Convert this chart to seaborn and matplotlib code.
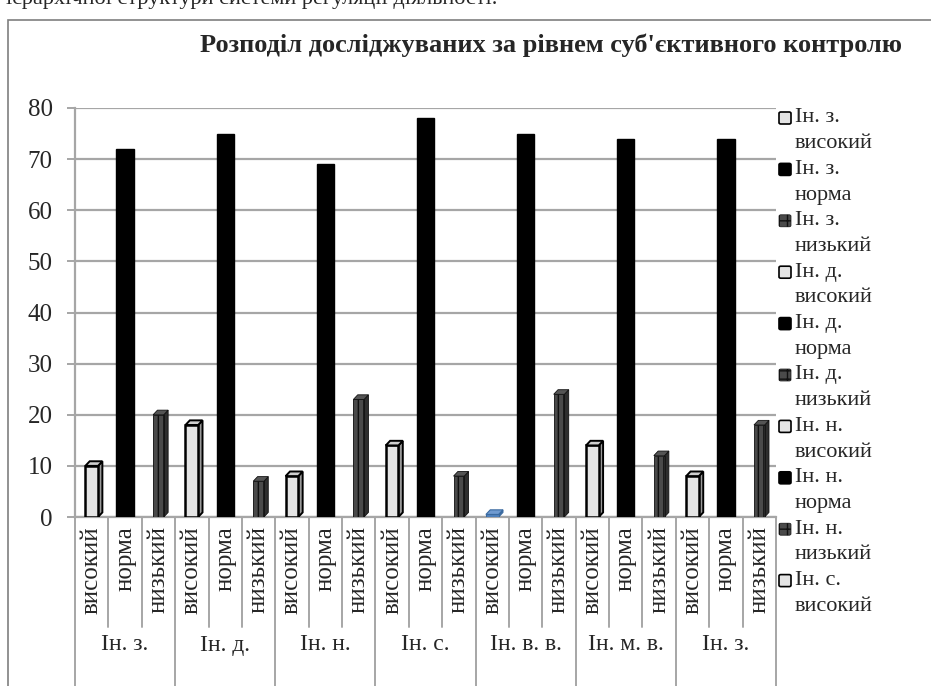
import numpy as np
import pandas as pd
import matplotlib
matplotlib.use("Agg")
import matplotlib.pyplot as plt
import matplotlib.patches as mpatches
import seaborn as sns

groups = ["Ін. з.", "Ін. д.", "Ін. н.", "Ін. с.", "Ін. в. в.", "Ін. м. в.", "Ін. з."]
levels = ["високий", "норма", "низький"]
values_high = [10, 18, 8, 14, 0.5, 14, 8]
values_norm = [72, 75, 69, 78, 75, 74, 74]
values_low = [20, 7, 23, 8, 24, 12, 18]
legend_labels = ["Ін. з.\nвисокий", "Ін. з.\nнорма", "Ін. з.\nнизький",
                 "Ін. д.\nвисокий", "Ін. д.\nнорма", "Ін. д.\nнизький",
                 "Ін. н.\nвисокий", "Ін. н.\nнорма", "Ін. н.\nнизький",
                 "Ін. с.\nвисокий"]
title = "Розподіл досліджуваних за рівнем суб'єктивного контролю"
yticks = [0, 10, 20, 30, 40, 50, 60, 70, 80]

rows = []
for gi, g in enumerate(groups):
    for li, (lv, vals) in enumerate(zip(levels, [values_high, values_norm, values_low])):
        rows.append({"pos": gi * 3 + li, "level": lv, "value": vals[gi]})
df = pd.DataFrame(rows)

sns.set_style("white")
plt.rcParams["font.family"] = ["Liberation Serif", "DejaVu Serif"]

W, H = 931, 686
fig = plt.figure(figsize=(W / 100, H / 100), dpi=100)

def fx(px):
    return px / W

def fy(py):
    return 1 - py / H

# chart area border
fig.patches.append(mpatches.Rectangle((fx(8), fy(700)), fx(940) - fx(8), fy(20) - fy(700),
                                      transform=fig.transFigure, fill=False,
                                      edgecolor="#7f7f7f", linewidth=1.2, zorder=0))
fig.text(fx(6), fy(4), "ієрархічної структури системи регуляції діяльності.",
         fontsize=16, va="baseline", ha="left")

left, right, top, bottom = 75, 776, 108, 517
ax = fig.add_axes([fx(left), fy(bottom), fx(right) - fx(left), fy(top) - fy(bottom)])

palette = {"високий": "#e4e4e4", "норма": "#000000", "низький": "#4a4a4a"}
sns.barplot(data=df, x="pos", y="value", hue="level", dodge=False, palette=palette,
            width=0.5, legend=False, ax=ax, zorder=3)

widths = {"високий": 0.38, "норма": 0.52, "низький": 0.32}
dx, dy = 0.13, 0.9  # small 3D depth offset (data units)
for p in list(ax.patches):
    c = p.get_x() + p.get_width() / 2
    idx = int(round(c))
    lv = levels[idx % 3]
    w = widths[lv]
    h = p.get_height()
    x0 = c - w / 2
    p.set_width(w)
    p.set_x(x0)
    if lv == "норма":
        p.set_edgecolor("black")
        continue
    if lv == "високий" and idx == 12:
        p.set_facecolor("#4f81bd")
        p.set_edgecolor("#3a6aa0")
        p.set_linewidth(0.8)
        side_fc, top_fc, ec, lw = "#3a6aa0", "#6f9ad0", "#3a6aa0", 0.8
    elif lv == "високий":
        p.set_edgecolor("black")
        p.set_linewidth(1.8)
        side_fc, top_fc, ec, lw = "#9a9a9a", "#cfcfcf", "black", 1.4
    else:
        p.set_hatch("|||")
        p.set_edgecolor("#111111")
        p.set_linewidth(0.6)
        side_fc, top_fc, ec, lw = "#2e2e2e", "#555555", "#111111", 0.6
    ax.fill([x0 + w, x0 + w + dx, x0 + w + dx, x0 + w],
            [0, dy, h + dy, h], facecolor=side_fc, edgecolor=ec, linewidth=lw, zorder=2.9)
    ax.fill([x0, x0 + dx, x0 + w + dx, x0 + w],
            [h, h + dy, h + dy, h], facecolor=top_fc, edgecolor=ec, linewidth=lw, zorder=3.1)

ax.set_xlim(-0.5, 20.5)
ax.set_ylim(0, 80)
ax.set_yticks(yticks)
ax.set_yticklabels([str(v) for v in yticks], fontsize=18)
ax.set_xticks([])
ax.set_xlabel("")
ax.set_ylabel("")
ax.grid(axis="y", color="#a6a6a6", linewidth=1.6, zorder=0)
ax.set_axisbelow(True)
for s in ["top", "right"]:
    ax.spines[s].set_visible(False)
for s in ["left", "bottom"]:
    ax.spines[s].set_color("#a6a6a6")
    ax.spines[s].set_linewidth(1.6)
ax.tick_params(axis="y", length=6, width=1.4, color="#a6a6a6", pad=10, direction="out", left=True)

# category labels and separators
trans = ax.get_xaxis_transform()
axh = bottom - top
for i in range(21):
    ax.text(i, -9 / axh, levels[i % 3], rotation=90, ha="center", va="top",
            fontsize=18, transform=trans, clip_on=False)
for b in range(22):
    x = b - 0.5
    if b % 3 == 0:
        y2 = -(H - bottom) / axh
    else:
        y2 = -(627 - bottom) / axh
    ax.plot([x, x], [0, y2], color="#a6a6a6", linewidth=1.4, transform=trans, clip_on=False)
for gi, g in enumerate(groups):
    ax.text(gi * 3 + 1, -(645 - bottom) / axh, g, ha="center", va="center",
            fontsize=17, transform=trans, clip_on=False)

fig.text(fx(551), fy(45), title, ha="center", va="center", fontsize=19, fontweight="bold")

# legend (manual, handle aligned with first line as in the reference)
handle_styles = [
    dict(facecolor="#e4e4e4", edgecolor="black", linewidth=1.2),
    dict(facecolor="black", edgecolor="black", linewidth=1.2),
    dict(facecolor="#4a4a4a", edgecolor="#111111", hatch="++", linewidth=0.5),
]
for i, lab in enumerate(legend_labels):
    y1 = 118 + 51.4 * i
    line1, line2 = lab.split("\n")
    fig.patches.append(mpatches.FancyBboxPatch((fx(779), fy(y1 + 6)), fx(12), fy(0) - fy(12),
                                               boxstyle="round,pad=0,rounding_size=0.002",
                                               transform=fig.transFigure, **handle_styles[i % 3]))
    fig.text(fx(795), fy(y1), line1, fontsize=16, va="center", ha="left")
    fig.text(fx(795), fy(y1 + 25.7), line2, fontsize=16, va="center", ha="left")

fig.savefig("out.png", dpi=100)
